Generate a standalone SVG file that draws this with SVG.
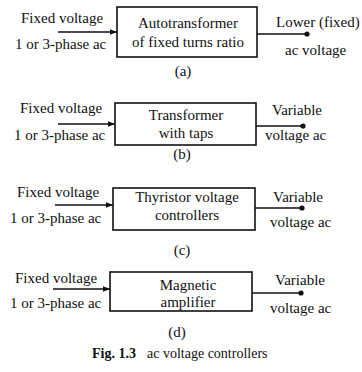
<svg xmlns="http://www.w3.org/2000/svg" width="362" height="372" viewBox="0 0 362 372">
<defs>
<style>
text{font-family:'Liberation Serif','Times New Roman','DejaVu Serif',serif;font-size:15px;fill:#111}
.c{text-anchor:middle}
.box{fill:#fff;stroke:#111;stroke-width:1.6}
.ln{fill:none;stroke:#111;stroke-width:1.3}
.dot{fill:#111}
.cap{font-size:14px}
.b{font-weight:bold}
</style>
<marker id="ah" viewBox="0 0 10 10" refX="10" refY="5" markerWidth="7" markerHeight="7" markerUnits="userSpaceOnUse" orient="auto">
<path d="M0,1 L10,5 L0,9 Z" fill="#111"/>
</marker>
</defs>
<rect width="362" height="372" fill="#fff"/>
<g id="connectors">
<line class="ln" x1="58" y1="32" x2="117" y2="32" marker-end="url(#ah)"/>
<line class="ln" x1="257" y1="34" x2="307" y2="34"/>
<circle class="dot" cx="307" cy="34" r="2.6"/>
<line class="ln" x1="58" y1="124" x2="115" y2="124" marker-end="url(#ah)"/>
<line class="ln" x1="256" y1="126" x2="303" y2="126"/>
<circle class="dot" cx="303" cy="126" r="2.6"/>
<line class="ln" x1="55" y1="205" x2="113" y2="205" marker-end="url(#ah)"/>
<line class="ln" x1="255" y1="208" x2="302" y2="208"/>
<circle class="dot" cx="302" cy="208" r="2.6"/>
<line class="ln" x1="53" y1="289" x2="110" y2="289" marker-end="url(#ah)"/>
<line class="ln" x1="252" y1="293" x2="301" y2="293"/>
<circle class="dot" cx="301" cy="293" r="2.6"/>
</g>
<g font-family="Liberation Serif, Times New Roman, DejaVu Serif, serif">
<g id="node-a">
<rect class="box" x="117" y="7" width="140" height="50"/>
<text class="c" x="188" y="28">Autotransformer</text>
<text class="c" x="188" y="47">of fixed turns ratio</text>
</g>
<g id="node-b">
<rect class="box" x="115" y="103" width="141" height="42"/>
<text class="c" x="186" y="120">Transformer</text>
<text class="c" x="186" y="138">with taps</text>
</g>
<g id="node-c">
<rect class="box" x="113" y="188" width="142" height="42"/>
<text class="c" x="187" y="202">Thyristor voltage</text>
<text class="c" x="187" y="220">controllers</text>
</g>
<g id="node-d">
<rect class="box" x="110" y="272" width="142" height="39"/>
<text class="c" x="188" y="290">Magnetic</text>
<text class="c" x="188" y="307">amplifier</text>
</g>
<g id="labels">
<text x="21" y="23">Fixed voltage</text>
<text x="15" y="49">1 or 3-phase ac</text>
<text x="276" y="27">Lower (fixed)</text>
<text x="285" y="55">ac voltage</text>
<text class="c" x="183" y="76">(a)</text>
<text x="20" y="113">Fixed voltage</text>
<text x="14" y="140">1 or 3-phase ac</text>
<text x="272" y="115">Variable</text>
<text x="265" y="140">voltage ac</text>
<text class="c" x="182" y="159">(b)</text>
<text x="17" y="197">Fixed voltage</text>
<text x="10" y="223">1 or 3-phase ac</text>
<text x="273" y="202">Variable</text>
<text x="270" y="227">voltage ac</text>
<text class="c" x="182" y="255">(c)</text>
<text x="15" y="283">Fixed voltage</text>
<text x="10" y="308">1 or 3-phase ac</text>
<text x="275" y="285">Variable</text>
<text x="270" y="313">voltage ac</text>
<text class="c" x="177" y="337">(d)</text>
<text class="cap b" x="92" y="358">Fig. 1.3</text>
<text class="cap" x="147" y="358">ac voltage controllers</text>
</g>
</g>
</svg>
